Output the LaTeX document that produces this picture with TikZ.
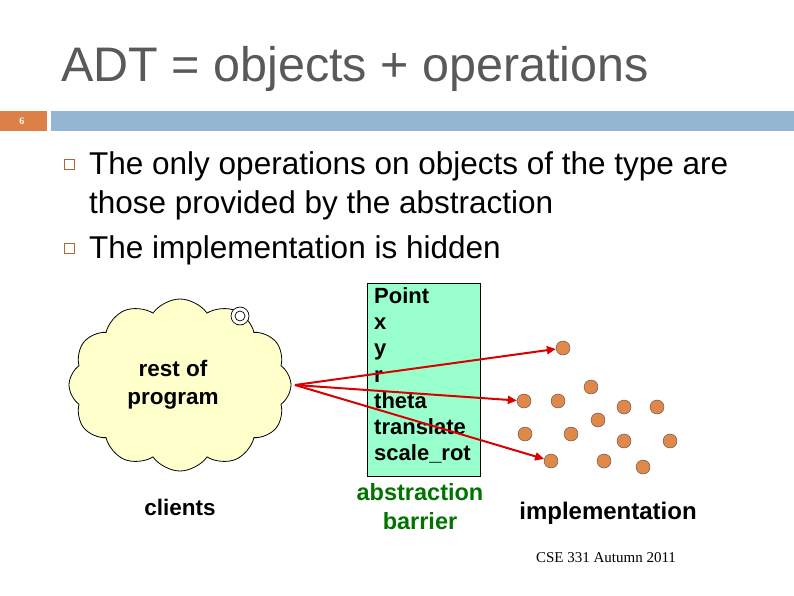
\documentclass[tikz,border=0pt]{standalone}
\usepackage{fontspec}
\setmainfont{Liberation Sans}
\newfontfamily\serifx{Liberation Serif}
\usetikzlibrary{shapes.symbols,arrows.meta}
\definecolor{dotc}{HTML}{E0884A}
\definecolor{boxc}{HTML}{99FFCC}
\definecolor{cloudc}{HTML}{FFFFCC}
\definecolor{barb}{HTML}{94B6D2}
\definecolor{baro}{HTML}{DD8047}
\tikzset{dot/.style={circle,draw=black!70,fill=dotc,minimum size=14pt,inner sep=0pt},
 arr/.style={draw=red!85!black,line width=2pt,-{Triangle[length=9pt,width=8pt]}},
 bul/.style={draw=baro!80!black,line width=0.8pt,minimum size=10pt,inner sep=0pt}}
\begin{document}
\begin{tikzpicture}[x=1pt,y=-1pt]
\useasboundingbox (0,0) rectangle (794,596);
\fill[white] (0,0) rectangle (794,596);
\node[anchor=base west,text=black!65,font=\fontsize{48.5}{54}\selectfont,inner sep=0] (title) at (61,82) {ADT = objects + operations};
\fill[baro] (0,111) rectangle (47,131);
\fill[barb] (51,111) rectangle (794,131);
\node[text=white,font=\serifx\bfseries\fontsize{10}{12}\selectfont] (num) at (22,121) {6};
\node[bul] (b1) at (69,164) {};
\node[bul] (b2) at (69,248) {};
\node[anchor=base west,inner sep=0,font=\fontsize{31.5}{36}\selectfont] (t1) at (89,175) {The only operations on objects of the type are};
\node[anchor=base west,inner sep=0,font=\fontsize{31.5}{36}\selectfont] (t1b) at (89,213) {those provided by the abstraction};
\node[anchor=base west,inner sep=0,font=\fontsize{31.5}{36}\selectfont] (t2) at (89,258) {The implementation is hidden};
\node[cloud,cloud puffs=12,cloud puff arc=110,aspect=1.25,draw,fill=cloudc,minimum width=222pt,minimum height=172pt,line width=0.8pt] (cloud) at (180,385) {};
\node[font=\fontsize{22.5}{28}\selectfont\bfseries,align=center] (rp) at (173,385) {rest of\\program};
\draw[line width=0.7pt,fill=white] (240,316) circle (9) (240,316) circle (5);
\node[font=\fontsize{22.5}{24}\selectfont\bfseries] (cl) at (180,507) {clients};
\node[draw,fill=boxc,minimum width=113pt,minimum height=193pt,line width=0.8pt] (box) at (423.5,379.5) {};
\node[anchor=north west,align=left,inner sep=0,font=\fontsize{22}{26.3}\selectfont\bfseries] (ops) at (374,287) {Point\\x\\y\\r\\theta\\translate\\scale\_rot};
\node[text=green!45!black,font=\fontsize{23.5}{29}\selectfont\bfseries,align=center] (ab) at (420,507) {abstraction\\barrier};
\node[font=\fontsize{24}{24}\selectfont\bfseries] (impl) at (608,513) {implementation};
\node[font=\serifx\fontsize{15}{16}\selectfont] (cse) at (606,558) {CSE 331 Autumn 2011};
\foreach \n/\x/\y in {d1/563/348,d2/524/401,d3/558/401,d4/591/387,d5/624/407,d6/657/407,d7/598/420,d8/525/434,d9/571/434,d10/624/441,d11/670/441,d12/551/461,d13/604/461,d14/643/467}
  \node[dot] (\n) at (\x,\y) {};
\coordinate (src) at (295,385);
\draw[arr] (src) -- (d1);
\draw[arr] (src) -- (d2);
\draw[arr] (src) -- (d12);
\end{tikzpicture}
\end{document}
